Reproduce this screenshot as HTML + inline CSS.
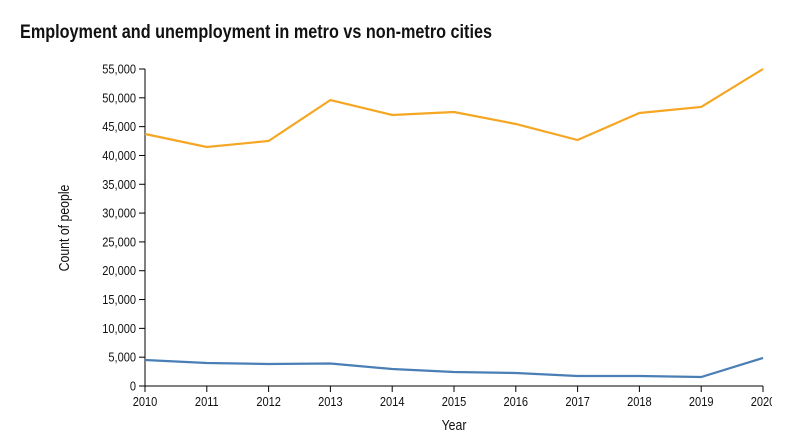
<!DOCTYPE html>
<html><head><meta charset="utf-8">
<style>
body{margin:0;background:#fff;width:802px;height:436px;overflow:hidden;}
#wrap{width:772px;height:436px;overflow:hidden;position:relative;}
text{font-family:"Liberation Sans",sans-serif;}
</style></head><body>
<div id="wrap">
<svg id="chart" width="802" height="436">
<text x="20" y="38" font-size="19" font-weight="bold" fill="#111" textLength="472" lengthAdjust="spacingAndGlyphs">Employment and unemployment in metro vs non-metro cities</text>
<g id="yaxis"></g>
<g id="xaxis"></g>
<text transform="translate(454,430) scale(0.82,1)" font-size="15" text-anchor="middle" fill="#111">Year</text>
<text transform="translate(69,228) rotate(-90) scale(0.82,1)" font-size="15" text-anchor="middle" fill="#111">Count of people</text>
<g id="lines"></g>
</svg></div>
<script>
const years=[2010,2011,2012,2013,2014,2015,2016,2017,2018,2019,2020];
const employed=[43720,41470,42510,49620,47020,47540,45460,42680,47370,48410,55000];
const unemployed=[4510,3990,3820,3900,2950,2430,2260,1735,1735,1560,4860];
const yTicks=[0,5000,10000,15000,20000,25000,30000,35000,40000,45000,50000,55000];
const NS="http://www.w3.org/2000/svg";
const x=v=>145+(v-2010)*(763-145)/10;
const y=v=>386-v*(386-69)/55000;
function mk(t,a,p){const e=document.createElementNS(NS,t);for(const k in a)e.setAttribute(k,a[k]);p.appendChild(e);return e;}
const ya=document.getElementById('yaxis'),xa=document.getElementById('xaxis'),ln=document.getElementById('lines');
const yl=mk('line',{x1:145,x2:145,y1:69,y2:386,stroke:'#000'},ya);


yTicks.forEach(t=>{
  const tk=mk('line',{x1:139,x2:145,y1:y(t),y2:y(t),stroke:'#000'},ya);
  
  
  const tx=mk('text',{transform:'translate(136,'+(y(t)+4.5)+') scale(0.85,1)','font-size':13,'text-anchor':'end',fill:'#111'},ya);
  tx.textContent=t.toLocaleString('en-US');
  
  
});
const xl=mk('line',{x1:145,x2:763,y1:386,y2:386,stroke:'#000'},xa);


years.forEach(t=>{
  const tk=mk('line',{x1:x(t),x2:x(t),y1:386,y2:392,stroke:'#000'},xa);
  
  
  const tx=mk('text',{transform:'translate('+x(t)+',406) scale(0.85,1)','font-size':13,'text-anchor':'middle',fill:'#111'},xa);
  tx.textContent=t;
  
  
});
function line(vals,color,name){
  const p=mk('path',{d:vals.map((v,i)=>(i?'L':'M')+x(years[i])+','+y(v)).join(''),fill:'none',stroke:color,'stroke-width':2.2},ln);
  
  
}
line(employed,'#f5a623','employed-line');
line(unemployed,'#4a7fb5','unemployed-line');
</script>
</body></html>
